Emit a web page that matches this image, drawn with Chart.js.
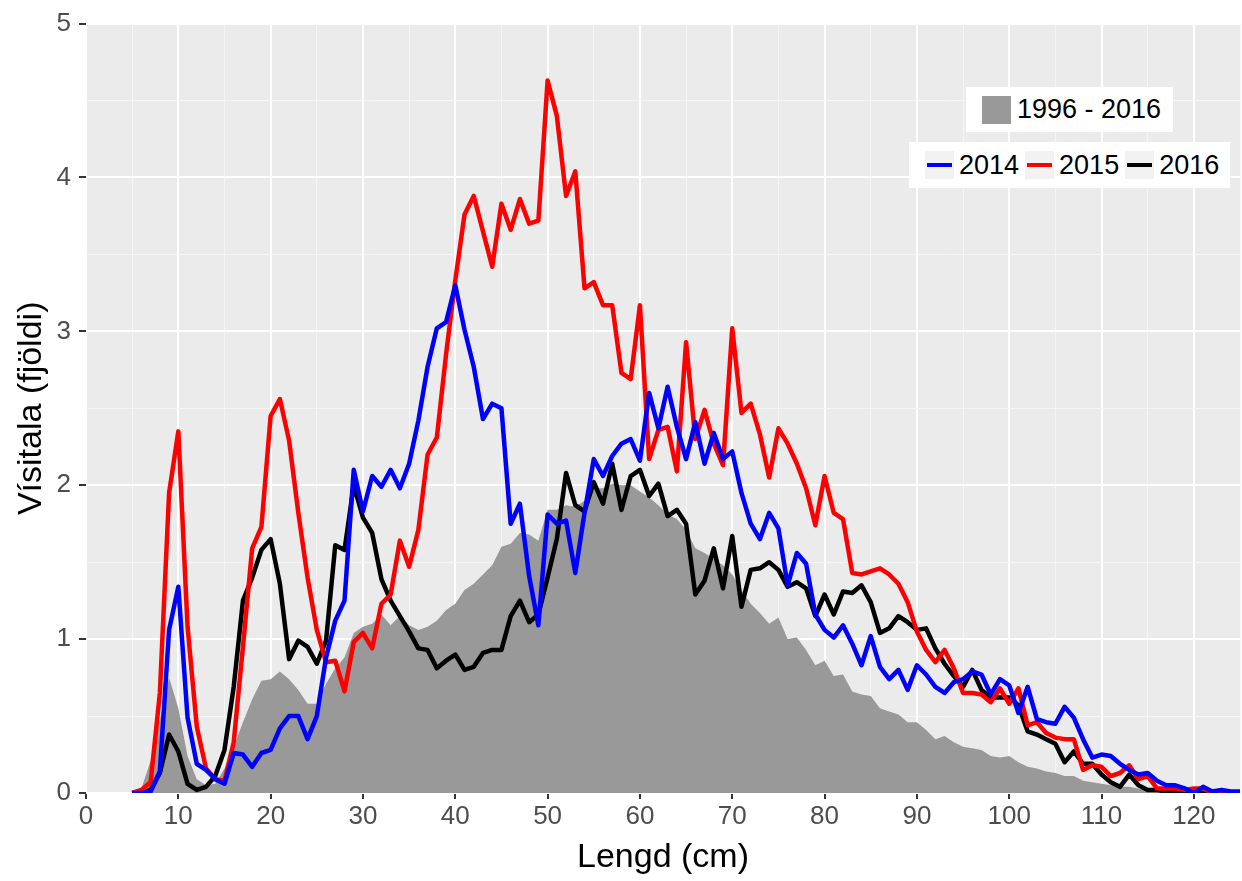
<html>
  <head>
    <meta charset="utf-8">
    <script src="https://cdn.jsdelivr.net/npm/chart.js@4.4.1/dist/chart.umd.min.js"></script>
  </head>
  <body>
    <div id="wrapper">
      <canvas id="chart" width="1242" height="881"></canvas>
      <div id="legendArea" class="legendBox">
        <span class="swatch"></span><span id="areaLabel"></span>
      </div>
      <div id="legendLines" class="legendBox"></div>
    </div>
    <script>
      // lengd í cm
      const lengd = [
        5, 6, 7, 8, 9, 10, 11, 12, 13, 14,
        15, 16, 17, 18, 19, 20, 21, 22, 23, 24,
        25, 26, 27, 28, 29, 30, 31, 32, 33, 34,
        35, 36, 37, 38, 39, 40, 41, 42, 43, 44,
        45, 46, 47, 48, 49, 50, 51, 52, 53, 54,
        55, 56, 57, 58, 59, 60, 61, 62, 63, 64,
        65, 66, 67, 68, 69, 70, 71, 72, 73, 74,
        75, 76, 77, 78, 79, 80, 81, 82, 83, 84,
        85, 86, 87, 88, 89, 90, 91, 92, 93, 94,
        95, 96, 97, 98, 99, 100, 101, 102, 103, 104,
        105, 106, 107, 108, 109, 110, 111, 112, 113, 114,
        115, 116, 117, 118, 119, 120, 121, 122, 123, 124,
        125
      ];
      const visitala2014 = [
        0, 0, 0.01, 0.14, 1.06, 1.34, 0.49, 0.19, 0.15, 0.09,
        0.06, 0.26, 0.25, 0.17, 0.26, 0.28, 0.42, 0.50, 0.50, 0.35,
        0.50, 0.88, 1.12, 1.25, 2.10, 1.83, 2.06, 1.99, 2.10, 1.98,
        2.14, 2.42, 2.77, 3.02, 3.06, 3.30, 3.01, 2.77, 2.43, 2.53,
        2.50, 1.75, 1.88, 1.41, 1.09, 1.81, 1.75, 1.77, 1.43, 1.82,
        2.17, 2.06, 2.19, 2.27, 2.30, 2.16, 2.60, 2.37, 2.64, 2.38,
        2.17, 2.41, 2.14, 2.34, 2.17, 2.22, 1.95, 1.75, 1.65, 1.82,
        1.72, 1.35, 1.56, 1.49, 1.16, 1.06, 1.01, 1.09, 0.97, 0.83,
        1.02, 0.82, 0.74, 0.80, 0.67, 0.83, 0.77, 0.69, 0.65, 0.72,
        0.74, 0.79, 0.77, 0.64, 0.74, 0.70, 0.52, 0.69, 0.48, 0.46,
        0.45, 0.56, 0.49, 0.35, 0.23, 0.25, 0.24, 0.19, 0.15, 0.12,
        0.13, 0.08, 0.05, 0.05, 0.03, 0.00, 0.04, 0.01, 0.02, 0.01,
        0.01
      ];
      const visitala2015 = [
        0, 0.02, 0.07, 0.65, 1.95, 2.35, 1.08, 0.43, 0.16, 0.09,
        0.08, 0.33, 0.95, 1.59, 1.73, 2.45, 2.56, 2.29, 1.82, 1.40,
        1.06, 0.85, 0.86, 0.66, 0.98, 1.04, 0.94, 1.23, 1.29, 1.64,
        1.47, 1.71, 2.20, 2.31, 2.85, 3.33, 3.76, 3.88, 3.65, 3.42,
        3.83, 3.66, 3.86, 3.70, 3.72, 4.63, 4.40, 3.88, 4.04, 3.28,
        3.32, 3.17, 3.17, 2.73, 2.69, 3.17, 2.17, 2.36, 2.38, 2.09,
        2.93, 2.30, 2.49, 2.27, 2.13, 3.02, 2.47, 2.53, 2.33, 2.05,
        2.37, 2.27, 2.14, 1.98, 1.74, 2.06, 1.82, 1.78, 1.43, 1.42,
        1.44, 1.46, 1.42, 1.36, 1.24, 1.05, 0.93, 0.85, 0.93, 0.81,
        0.65, 0.65, 0.64, 0.59, 0.68, 0.58, 0.68, 0.44, 0.46, 0.39,
        0.36, 0.35, 0.35, 0.15, 0.18, 0.17, 0.11, 0.13, 0.18, 0.09,
        0.11, 0.03, 0.03, 0.03, 0.02, 0.03, 0.03, 0, 0, 0,
        0
      ];
      const visitala2016 = [
        0, 0, 0.02, 0.13, 0.38, 0.27, 0.06, 0.02, 0.04, 0.11,
        0.28, 0.69, 1.25, 1.40, 1.58, 1.65, 1.36, 0.87, 0.99, 0.95,
        0.84, 0.99, 1.61, 1.58, 2.00, 1.79, 1.69, 1.39, 1.25, 1.15,
        1.05, 0.94, 0.93, 0.81, 0.86, 0.90, 0.80, 0.82, 0.91, 0.93,
        0.93, 1.15, 1.25, 1.11, 1.16, 1.40, 1.65, 2.08, 1.87, 1.83,
        2.02, 1.88, 2.14, 1.84, 2.06, 2.10, 1.93, 2.01, 1.80, 1.84,
        1.75, 1.29, 1.38, 1.59, 1.33, 1.67, 1.21, 1.45, 1.46, 1.50,
        1.45, 1.34, 1.37, 1.33, 1.15, 1.29, 1.16, 1.31, 1.30, 1.35,
        1.24, 1.04, 1.07, 1.15, 1.11, 1.06, 1.07, 0.94, 0.84, 0.76,
        0.69, 0.80, 0.67, 0.62, 0.62, 0.62, 0.57, 0.40, 0.38, 0.35,
        0.32, 0.20, 0.27, 0.19, 0.19, 0.12, 0.07, 0.04, 0.12, 0.05,
        0.02, 0.02, 0.01, 0.01, 0, 0, 0, 0, 0, 0,
        0
      ];
      // meðaltal 1996 - 2016
      const visitalaMedal = [
        0, 0.03, 0.21, 0.48, 0.75, 0.55, 0.24, 0.09, 0.05, 0.06,
        0.16, 0.30, 0.46, 0.61, 0.73, 0.74, 0.79, 0.74, 0.67, 0.58,
        0.58, 0.71, 0.81, 0.88, 1.04, 1.08, 1.10, 1.16, 1.09, 1.15,
        1.09, 1.06, 1.08, 1.12, 1.19, 1.23, 1.32, 1.36, 1.42, 1.48,
        1.60, 1.62, 1.69, 1.68, 1.64, 1.84, 1.84, 1.87, 1.86, 1.90,
        1.98, 1.98, 2.01, 2.00, 2.00, 1.96, 1.92, 1.87, 1.81, 1.78,
        1.71, 1.59, 1.56, 1.52, 1.48, 1.42, 1.32, 1.23, 1.17, 1.10,
        1.14, 1.00, 1.01, 0.93, 0.83, 0.86, 0.76, 0.77, 0.66, 0.64,
        0.63, 0.55, 0.53, 0.51, 0.46, 0.46, 0.41, 0.35, 0.37, 0.33,
        0.30, 0.29, 0.28, 0.24, 0.23, 0.24, 0.20, 0.17, 0.16, 0.14,
        0.13, 0.11, 0.11, 0.08, 0.07, 0.06, 0.05, 0.04, 0.04, 0.03,
        0.02, 0.02, 0.01, 0.01, 0.01, 0.01, 0.01, 0.01, 0.01, 0.01,
        0.01
      ];
      const xTickLabels = [0, 10, 20, 30, 40, 50, 60, 70, 80, 90, 100, 110, 120];
      const yTickLabels = [0, 1, 2, 3, 4, 5];
      const areaName = '1996 - 2016';
      const lineNames = ['2014', '2015', '2016'];
      const lineColors = ['#0000FF', '#FF0000', '#000000'];

      function points(values) {
        return lengd.map(function(x, i) {
          return {x: x, y: values[i]};
        });
      }

      // grár bakgrunnur eins og í ggplot
      const panelBg = {
        id: 'panelBg',
        beforeDraw(chart) {
          const a = chart.chartArea;
          const ctx = chart.ctx;
          ctx.save();
          ctx.fillStyle = '#EBEBEB';
          ctx.fillRect(a.left, a.top, a.right - a.left, a.bottom - a.top);
          ctx.restore();
        }
      };

      const tickFont = {family: '"Liberation Sans", Arial, sans-serif', size: 26};
      const titleFont = {family: '"Liberation Sans", Arial, sans-serif', size: 34, lineHeight: 1};

      function isMajor(list, v) {
        return list.indexOf(v) !== -1;
      }

      new Chart('chart', {
        type: 'line',
        plugins: [panelBg],
        data: {
          datasets: [
            {label: lineNames[0], data: points(visitala2014), borderColor: lineColors[0]},
            {label: lineNames[1], data: points(visitala2015), borderColor: lineColors[1]},
            {label: lineNames[2], data: points(visitala2016), borderColor: lineColors[2]},
            {
              label: areaName,
              data: points(visitalaMedal),
              fill: 'origin',
              backgroundColor: '#999999',
              borderColor: 'rgba(0,0,0,0)',
              borderWidth: 0
            }
          ]
        },
        options: {
          responsive: false,
          animation: false,
          events: [],
          layout: {padding: {top: 21, right: 0, left: 0, bottom: 0}},
          elements: {
            line: {borderWidth: 4.5, tension: 0, borderJoinStyle: 'round', fill: false},
            point: {radius: 0}
          },
          plugins: {legend: {display: false}, tooltip: {enabled: false}},
          scales: {
            x: {
              type: 'linear',
              min: 0,
              max: 125,
              border: {display: false},
              afterFit: function(s) { s.height = 88; },
              grid: {
                color: function(c) { return isMajor(xTickLabels, c.tick.value) ? '#FFFFFF' : '#F5F5F5'; },
                lineWidth: function(c) { return isMajor(xTickLabels, c.tick.value) ? 2 : 1; },
                tickColor: function(c) { return isMajor(xTickLabels, c.tick.value) ? '#333333' : 'rgba(0,0,0,0)'; },
                tickWidth: 2,
                tickLength: 6
              },
              ticks: {
                stepSize: 5,
                autoSkip: false,
                maxRotation: 0,
                padding: 2,
                color: '#4D4D4D',
                font: tickFont,
                callback: function(v) { return isMajor(xTickLabels, v) ? String(v) : ''; }
              },
              title: {
                display: true,
                text: 'Lengd (cm)',
                color: '#000000',
                font: titleFont,
                padding: {top: 0, bottom: 6}
              }
            },
            y: {
              min: 0,
              max: 5,
              border: {display: false},
              afterFit: function(s) { s.width = 86; },
              grid: {
                color: function(c) { return isMajor(yTickLabels, c.tick.value) ? '#FFFFFF' : '#F5F5F5'; },
                lineWidth: function(c) { return isMajor(yTickLabels, c.tick.value) ? 2 : 1; },
                tickColor: function(c) { return isMajor(yTickLabels, c.tick.value) ? '#333333' : 'rgba(0,0,0,0)'; },
                tickWidth: 2,
                tickLength: 7
              },
              ticks: {
                stepSize: 0.5,
                autoSkip: false,
                padding: 8,
                color: '#4D4D4D',
                font: tickFont,
                callback: function(v) { return isMajor(yTickLabels, v) ? String(v) : ''; }
              },
              title: {
                display: true,
                text: 'Vísitala (fjöldi)',
                color: '#000000',
                font: titleFont,
                padding: {top: 15, bottom: 0}
              }
            }
          }
        }
      });

      document.getElementById('areaLabel').textContent = areaName;
      const box = document.getElementById('legendLines');
      lineNames.forEach(function(name, i) {
        const key = document.createElement('span');
        key.className = 'key';
        key.innerHTML = '<span class="keyLine" style="background:' + lineColors[i] + '"></span>';
        const label = document.createElement('span');
        label.className = 'keyText';
        label.textContent = name;
        box.appendChild(key);
        box.appendChild(label);
      });
    </script>
  </body>
  <style>
    body {
      margin: 0;
      background: #FFFFFF;
      font-family: "Liberation Sans", Arial, sans-serif;
    }
    #wrapper {
      position: relative;
      width: 1242px;
      height: 881px;
    }
    #chart {
      display: block;
    }
    .legendBox {
      position: absolute;
      background: #FFFFFF;
      display: flex;
      align-items: center;
      box-sizing: border-box;
      font-size: 27px;
      color: #000000;
      white-space: nowrap;
    }
    #legendArea {
      left: 966px;
      top: 87px;
      width: 207px;
      height: 45px;
      padding-left: 16px;
    }
    .swatch {
      display: inline-block;
      width: 29px;
      height: 28px;
      background: #999999;
      margin-right: 6px;
    }
    #legendLines {
      left: 909px;
      top: 142px;
      width: 321px;
      height: 46px;
      padding-left: 16px;
    }
    .key {
      display: inline-flex;
      align-items: center;
      justify-content: center;
      width: 29px;
      height: 28px;
      background: #F2F2F2;
      margin-right: 5px;
    }
    .keyLine {
      display: block;
      width: 25px;
      height: 4px;
    }
    .keyText {
      margin-right: 6px;
    }
  </style>
</html>
